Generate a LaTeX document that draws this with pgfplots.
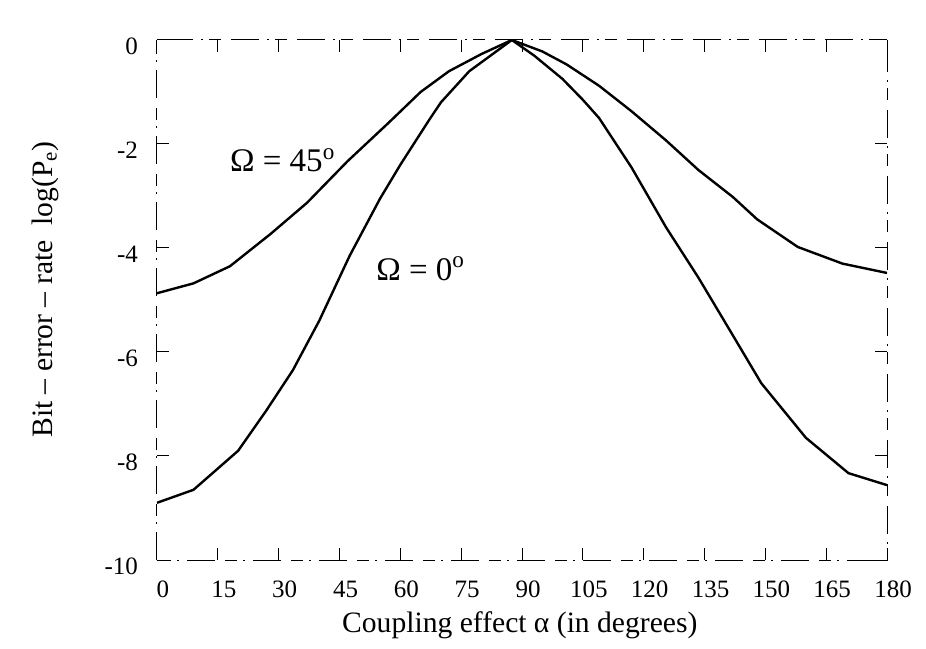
\documentclass[border=0pt]{standalone}
\usepackage{pgfplots}
\pgfplotsset{compat=1.18}
\usepackage{fontspec}
\setmainfont{Liberation Serif}
\begin{document}
\begin{tikzpicture}
\useasboundingbox (-78.5pt,-44pt) rectangle (384.5pt,280pt);
\begin{axis}[
  at={(0,0)}, anchor=south west,
  scale only axis, width=365pt, height=260pt,
  xmin=0, xmax=180, ymin=-10, ymax=0,
  xtick={0,15,...,180},
  ytick={0,-2,-4,-6,-8,-10},
  axis line style={black, line width=0.5pt, dash pattern=on 14pt off 4pt on 1pt off 3pt on 6pt off 5pt},
  tick style={black, line width=0.5pt},
  major tick length=6pt,
  tick align=inside,
  /pgf/number format/assume math mode=true,
  tick label style={font=\fontsize{12.5}{14}\selectfont},
  xticklabel style={xshift=3pt, yshift=-7pt},
  yticklabel style={xshift=-6pt, yshift=-3pt},
  xlabel={Coupling effect α (in degrees)},
  ylabel={Bit -- error -- rate\ \ log(P$_\mathrm{e}$)},
  label style={font=\fontsize{14.8}{16}\selectfont},
  xlabel style={at={(axis description cs:0.497,-0.125)}, anchor=center},
  ylabel style={at={(axis description cs:-0.153,0.52)}, anchor=center},
]
\addplot[black, line width=1.2pt] coordinates {
(0,-4.87) (9,-4.68) (18,-4.35) (28,-3.73) (37,-3.13) (47,-2.33) (57,-1.6)
(65,-1.0) (72,-0.6) (80,-0.27) (87.5,0) (95,-0.22) (101,-0.47)
(109,-0.88) (117,-1.37) (125.5,-1.93) (133.5,-2.5) (142,-3.02) (148,-3.45)
(158,-3.98) (169,-4.3) (180,-4.48)};
\addplot[black, line width=1.2pt] coordinates {
(0,-8.9) (9,-8.65) (20,-7.9) (27,-7.12) (33.5,-6.35) (40,-5.4) (47.5,-4.15)
(55,-3.05) (60,-2.4) (67,-1.55) (70,-1.2) (77,-0.6) (87.5,0) (93,-0.3)
(100,-0.75) (105,-1.15) (109,-1.5) (117,-2.45) (125.5,-3.6) (133.5,-4.57)
(141,-5.55) (149,-6.6) (160,-7.65) (170.5,-8.33) (180,-8.56)};
\node[font=\fontsize{16.5}{18}\selectfont] at (axis cs:31,-2.31) {Ω = 45$^\mathrm{o}$};
\node[font=\fontsize{16.5}{18}\selectfont] at (axis cs:65,-4.4) {Ω = 0$^\mathrm{o}$};
\end{axis}
\end{tikzpicture}
\end{document}
